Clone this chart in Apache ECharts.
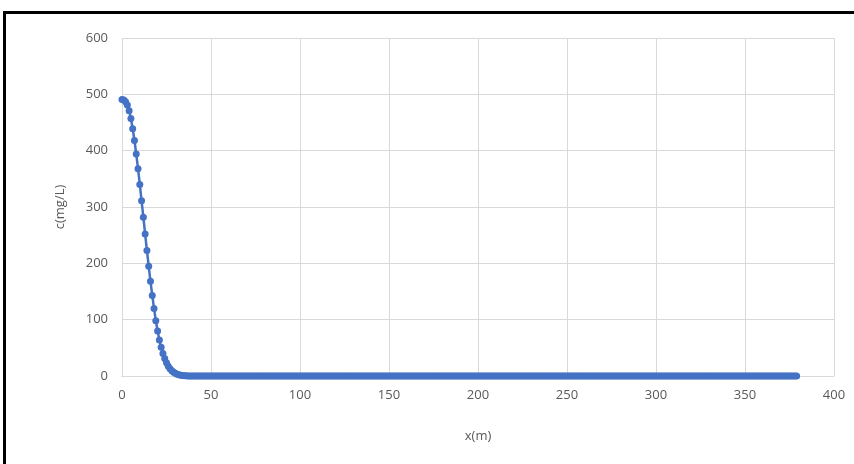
<!DOCTYPE html>
<html>
<head>
<meta charset="utf-8">
<script src="https://cdn.jsdelivr.net/npm/echarts@6/dist/echarts.min.js"></script>
<style>
  html, body { margin: 0; padding: 0; background: #fff; overflow: hidden; }
  #frame { position: absolute; left: 3px; top: 11px; width: 900px; height: 500px; border: 3px solid #000; background: #fff; }
  #chart { position: absolute; left: 0; top: 0; width: 854px; height: 464px; }
</style>
</head>
<body>
<div id="frame"></div>
<div id="chart"></div>
<script>
// concentration c (mg/L) at x = 0, 1, 2, ... m
const headValues = [
  491, 490, 487, 481, 471, 457, 439, 418, 394, 368,
  340, 311, 282, 252, 223, 195, 168, 143, 120, 98,
  80, 64, 51, 40, 31, 23.5, 17.5, 13, 9.5, 6.8,
  4.8, 3.3, 2.2, 1.5, 1, 0.6, 0.4, 0.2, 0.1
]
// flat tail, c ~ 0 from x = 39 to x = 379
const tailValues = [
  0,0,0,0,0,0,0,0,0,0,0,0,0,0,0,0,0,0,0,0,0,0,0,0,0,0,0,0,0,0,
  0,0,0,0,0,0,0,0,0,0,0,0,0,0,0,0,0,0,0,0,0,0,0,0,0,0,0,0,0,0,
  0,0,0,0,0,0,0,0,0,0,0,0,0,0,0,0,0,0,0,0,0,0,0,0,0,0,0,0,0,0,
  0,0,0,0,0,0,0,0,0,0,0,0,0,0,0,0,0,0,0,0,0,0,0,0,0,0,0,0,0,0,
  0,0,0,0,0,0,0,0,0,0,0,0,0,0,0,0,0,0,0,0,0,0,0,0,0,0,0,0,0,0,
  0,0,0,0,0,0,0,0,0,0,0,0,0,0,0,0,0,0,0,0,0,0,0,0,0,0,0,0,0,0,
  0,0,0,0,0,0,0,0,0,0,0,0,0,0,0,0,0,0,0,0,0,0,0,0,0,0,0,0,0,0,
  0,0,0,0,0,0,0,0,0,0,0,0,0,0,0,0,0,0,0,0,0,0,0,0,0,0,0,0,0,0,
  0,0,0,0,0,0,0,0,0,0,0,0,0,0,0,0,0,0,0,0,0,0,0,0,0,0,0,0,0,0,
  0,0,0,0,0,0,0,0,0,0,0,0,0,0,0,0,0,0,0,0,0,0,0,0,0,0,0,0,0,0,
  0,0,0,0,0,0,0,0,0,0,0,0,0,0,0,0,0,0,0,0,0,0,0,0,0,0,0,0,0,0,
  0,0,0,0,0,0,0,0,0,0,0
]
const xStart = 0
const xStep = 1

const xName = 'x(m)'
const yName = 'c(mg/L)'

const values = headValues.concat(tailValues)
const points = values.map((v, i) => [xStart + i * xStep, v])

const chart = echarts.init(document.getElementById('chart'), null, { renderer: 'canvas' })

const labelStyle = { color: '#595959', fontSize: 13, fontFamily: 'Open Sans, sans-serif' }
const gridLine = { show: true, lineStyle: { color: '#d9d9d9', width: 1 } }

chart.setOption({
  animation: false,
  grid: { left: 122, right: 20, top: 38, bottom: 88 },
  xAxis: {
    type: 'value',
    min: 0, max: 400, interval: 50,
    name: xName,
    nameLocation: 'middle',
    nameGap: 54,
    nameTextStyle: labelStyle,
    axisLine: { show: true, lineStyle: { color: '#d9d9d9' } },
    axisTick: { show: false },
    axisLabel: Object.assign({ margin: 13 }, labelStyle),
    splitLine: gridLine
  },
  yAxis: {
    type: 'value',
    min: 0, max: 600, interval: 100,
    name: yName,
    nameLocation: 'middle',
    nameGap: 55,
    nameRotate: 90,
    nameTextStyle: labelStyle,
    axisLine: { show: false },
    axisTick: { show: false },
    axisLabel: Object.assign({ margin: 14 }, labelStyle),
    splitLine: gridLine
  },
  series: [{
    type: 'line',
    data: points,
    symbol: 'circle',
    symbolSize: 7,
    showAllSymbol: true,
    lineStyle: { color: '#4472c4', width: 2.5 },
    itemStyle: { color: '#4472c4' }
  }]
})
</script>
</body>
</html>
